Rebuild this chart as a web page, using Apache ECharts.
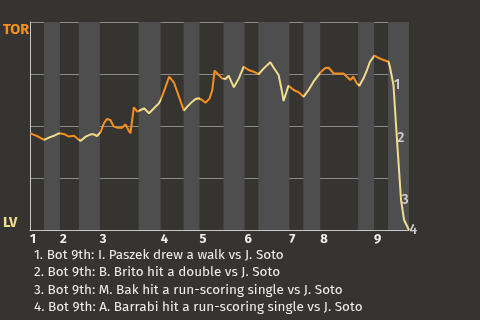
<!DOCTYPE html>
<html><head><meta charset="utf-8">
<script src="https://cdn.jsdelivr.net/npm/echarts@6/dist/echarts.min.js"></script>
<style>html,body{margin:0;padding:0;background:#363431;}#c{width:480px;height:320px;}</style>
</head><body><div id="c"></div>
<script>
// Game progress (% of game) and Toronto win probability (%)
var progress = [0,1.1,2.4,3.7,5.0,6.3,7.6,8.1,8.9,10.3,
  10.7,11.6,12.4,12.9,13.3,14.7,16.0,16.8,17.7,18.6,
  19.5,20.3,21.2,22.1,23.0,24.3,25.2,26.1,26.5,27.0,
  27.4,28.3,28.8,29.2,30.1,31.4,32.7,34.0,34.5,35.8,
  36.7,37.1,38.0,39.3,40.6,41.5,42.8,43.7,44.6,45.4,
  46.3,47.4,48.1,48.7,49.8,50.7,51.6,52.4,53.8,55.1,
  56.4,56.8,57.7,59.0,60.3,61.7,63.4,64.7,65.6,66.5,
  66.9,67.4,68.2,68.7,69.6,70.9,72.2,73.5,74.8,76.1,
  77.0,77.9,78.8,80.1,82.7,83.6,84.5,85.3,86.2,86.9,
  88.0,88.9,89.7,90.9,91.9,93.3,94.6,95.0,95.9,96.8,
  97.9,98.7,100];
var torWin = [46.6,45.7,44.7,43.3,44.4,45.3,46.5,46.8,46.2,44.9,
  44.2,45.3,44.1,43.3,42.8,44.9,46.0,46.0,45.2,47.0,
  51.3,53.4,52.9,49.7,49.2,49.2,50.8,47.6,46.5,46.6,
  58.9,56.9,56.1,57.7,58.5,56.1,58.5,60.9,62.5,68.9,
  73.7,74.0,70.8,64.1,57.4,59.3,61.7,63.0,63.3,62.5,
  61.2,63.3,67.3,76.6,74.5,72.9,72.6,74.2,68.6,72.9,
  78.5,78.5,76.9,76.1,74.9,77.7,80.6,76.9,74.5,66.5,
  62.0,62.5,69.4,68.9,67.3,66.2,64.1,67.3,71.3,74.5,
  76.4,77.9,78.0,75.3,75.3,73.7,72.1,73.7,70.5,69.4,
  72.9,76.9,80.9,83.8,82.8,81.7,80.9,78.1,69.7,44.2,
  14.4,4.8,0];
// Start of each half inning (top 1st, bot 1st, ... bot 9th), game end
var halfInningStarts = [0,3.68,7.89,12.89,18.42,28.68,34.47,40.53,44.74,51.05,56.58,60.26,68.42,72.11,76.58,86.58,90.79,94.47];
var gameEnd = 100;
var innings = ['1','2','3','4','5','6','7','8','9'];
// Key events
var eventNums = ['1','2','3','4'];
var eventProgress = [95.9,96.8,97.9,100];
var eventWin = [69.7,44.2,14.4,0];
var eventTexts = [
  'Bot 9th: I. Paszek drew a walk vs J. Soto',
  'Bot 9th: B. Brito hit a double vs J. Soto',
  'Bot 9th: M. Bak hit a run-scoring single vs J. Soto',
  'Bot 9th: A. Barrabi hit a run-scoring single vs J. Soto'
];
var teamTop = 'TOR', teamBottom = 'LV';

var ORANGE = '#f78f1e', YELLOW = '#efdd8c';
var FONT = '"Fira Sans","Open Sans","Noto Sans",sans-serif';

var lineData = progress.map(function(p,i){return [p, torWin[i]];});
var pieces = [], bands = [];
for (var i=0;i<halfInningStarts.length;i++){
  var s = halfInningStarts[i], e = (i+1<halfInningStarts.length)?halfInningStarts[i+1]:gameEnd;
  pieces.push({gte:s, lt:(i+1<halfInningStarts.length)?e:e+1, color:(i%2===0)?ORANGE:YELLOW});
  if (i%2===1) bands.push([{xAxis:s},{xAxis:e}]);
}
var inningStarts = halfInningStarts.filter(function(v,i){return i%2===0;});
var evData = eventProgress.map(function(p,i){return {value:[p,eventWin[i]], name:eventNums[i]};});
var footer = eventTexts.map(function(t,i){return eventNums[i]+'. '+t;}).join('\n');

var chart = echarts.init(document.getElementById('c'));
chart.setOption({
  backgroundColor:'#363431',
  animation:false,
  grid:{left:29,right:71,top:22,bottom:90},
  title:{text:footer,left:29,top:241,textStyle:{color:'#eeeeee',fontSize:13.5,fontWeight:'normal',fontFamily:FONT,lineHeight:17.6}},
  xAxis:{type:'value',min:0,max:gameEnd,
    axisLine:{show:true,lineStyle:{color:'#c8c8c8',width:1}},
    axisTick:{show:false},
    splitLine:{show:false},
    axisLabel:{customValues:inningStarts,showMinLabel:true,align:'left',margin:3,
      color:'#eeeeee',fontWeight:'bold',fontSize:13,fontFamily:FONT,
      formatter:function(v){var k=inningStarts.indexOf(v);return k>=0?innings[k]:'';}}},
  yAxis:[{type:'value',min:0,max:100,interval:25,
    axisLine:{show:true,lineStyle:{color:'#c8c8c8',width:1}},
    axisTick:{show:false},
    splitLine:{show:true,lineStyle:{color:'#8a8a8a',width:1}},
    axisLabel:{align:'left',margin:27,verticalAlign:'top',color:ORANGE,fontWeight:'bold',fontSize:14.5,fontFamily:FONT,
      formatter:function(v){return v===100?teamTop:'';}}},
   {type:'value',min:0,max:100,interval:25,position:'left',
    axisLine:{show:false},axisTick:{show:false},splitLine:{show:false},
    axisLabel:{align:'left',margin:27,verticalAlign:'bottom',color:YELLOW,fontWeight:'bold',fontSize:14.5,fontFamily:FONT,
      formatter:function(v){return v===0?teamBottom:'';}}}],
  visualMap:{show:false,type:'piecewise',dimension:0,seriesIndex:1,pieces:pieces},
  series:[
    {type:'line',data:[],silent:true,z:1,
      markArea:{silent:true,itemStyle:{color:'#4e4e4e'},data:bands}},
    {type:'line',data:lineData,showSymbol:false,z:3,lineStyle:{width:2},symbol:'none'},
    {type:'scatter',data:evData,symbolSize:1,itemStyle:{color:'rgba(0,0,0,0)'},z:4,
      label:{show:true,position:'right',distance:0,formatter:'{b}',color:'#f2f2f2',fontSize:14,fontWeight:500,fontFamily:FONT}}
  ]
});
</script></body></html>
